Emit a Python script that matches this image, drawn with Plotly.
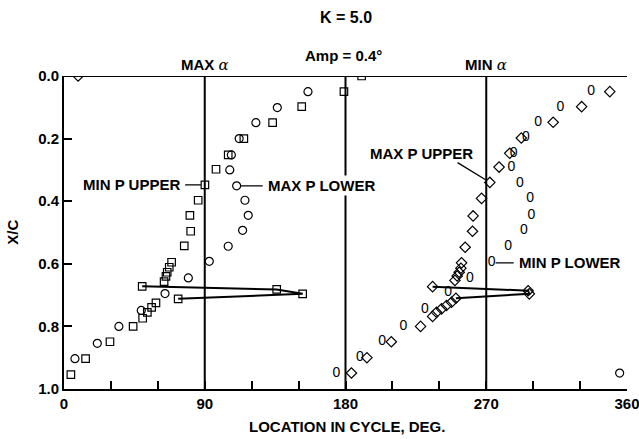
import plotly.graph_objects as go

# ---- measured locations of pressure extremes (phase in deg, chordwise x/c) ----
# minimum pressure, upper surface (squares)
min_p_upper_deg = [4.4, 13.8, 29.4, 44.2, 50.3, 53.3, 56.0, 58.8, 73.0,
                   50.0, 64.0, 65.2, 66.0, 67.3, 68.8, 76.9, 81.0, 80.5, 85.8,
                   90.1, 97.2, 105.0, 115.0, 133.4, 152.0, 179.0, 190.3,
                   136.0, 152.6]
min_p_upper_xc = [0.954, 0.903, 0.849, 0.800, 0.774, 0.755, 0.739, 0.725, 0.712,
                  0.672, 0.657, 0.640, 0.627, 0.611, 0.595, 0.543, 0.496, 0.445, 0.397,
                  0.348, 0.298, 0.252, 0.200, 0.149, 0.098, 0.050, 0.000,
                  0.682, 0.696]

# maximum pressure, lower surface (circles)
max_p_lower_deg = [7.0, 21.3, 35.1, 49.4, 64.6, 79.5, 92.9, 105.0, 114.2, 117.8,
                   115.7, 110.4, 106.0, 107.0, 112.0, 122.7, 136.4, 156.0, 355.3]
max_p_lower_xc = [0.903, 0.854, 0.800, 0.749, 0.695, 0.645, 0.592, 0.544, 0.493, 0.445,
                  0.397, 0.351, 0.300, 0.252, 0.200, 0.149, 0.101, 0.050, 0.949]

# maximum pressure, upper surface (diamonds)
max_p_upper_deg = [9.0, 183.8, 193.7, 209.3, 228.0, 235.7, 238.2, 241.4, 244.6, 247.8,
                   250.6, 235.7, 250.0, 251.4, 252.7, 253.8, 254.2, 256.5, 261.2, 261.6,
                   267.0, 272.3, 278.2, 285.0, 292.4, 312.8, 331.0, 349.0, 296.8, 297.5]
max_p_upper_xc = [0.000, 0.949, 0.900, 0.849, 0.800, 0.768, 0.755, 0.744, 0.733, 0.723,
                  0.710, 0.673, 0.653, 0.639, 0.627, 0.614, 0.597, 0.547, 0.496, 0.447,
                  0.391, 0.340, 0.291, 0.247, 0.198, 0.148, 0.098, 0.050, 0.686, 0.696]

# minimum pressure, lower surface (plotted as "0")
min_p_lower_deg = [174.2, 189.2, 203.5, 217.0, 230.8, 245.6, 259.5, 273.4, 284.0, 294.0,
                   298.9, 298.0, 291.5, 286.1, 287.6, 295.4, 303.2, 317.4, 337.0]
min_p_lower_xc = [0.951, 0.900, 0.849, 0.800, 0.746, 0.691, 0.647, 0.597, 0.545, 0.493,
                  0.445, 0.392, 0.343, 0.293, 0.247, 0.198, 0.148, 0.100, 0.050]

# jumps of the upper-surface extremes
jump_max_deg = [50.0, 136.0, 152.6, 73.0]
jump_max_xc = [0.672, 0.682, 0.696, 0.712]
jump_min_deg = [235.7, 296.8, 297.5, 250.6]
jump_min_xc = [0.673, 0.686, 0.696, 0.710]

x_ticks = [0, 90, 180, 270, 360]
x_minor = [30, 60, 120, 150, 210, 240, 300, 330]
y_ticks = [0.0, 0.2, 0.4, 0.6, 0.8, 1.0]
y_labels = ["0.0", "0.2", "0.4", "0.6", "0.8", "1.0"]

FONT = "Liberation Sans Narrow, Arial Narrow, sans-serif"
INK = "black"

fig = go.Figure()

for xs, ys in [(jump_max_deg, jump_max_xc), (jump_min_deg, jump_min_xc)]:
    fig.add_trace(go.Scatter(x=xs, y=ys, mode="lines",
                             line=dict(color=INK, width=2), hoverinfo="skip"))

fig.add_trace(go.Scatter(x=min_p_upper_deg, y=min_p_upper_xc, mode="markers",
                         marker=dict(symbol="square-open", size=7.5, color=INK,
                                     line=dict(width=1.2, color=INK))))
fig.add_trace(go.Scatter(x=max_p_lower_deg, y=max_p_lower_xc, mode="markers",
                         marker=dict(symbol="circle-open", size=8, color=INK,
                                     line=dict(width=1.2, color=INK))))
fig.add_trace(go.Scatter(x=max_p_upper_deg, y=max_p_upper_xc, mode="markers",
                         marker=dict(symbol="diamond-open", size=8, color=INK,
                                     line=dict(width=1.2, color=INK))))
fig.add_trace(go.Scatter(x=min_p_lower_deg, y=min_p_lower_xc, mode="text",
                         text=["0"] * len(min_p_lower_deg),
                         textposition="middle center",
                         textfont=dict(family=FONT, size=14, color=INK)))

# phase markers at max / mid / min alpha, plus the top frame line
shapes = []
for xv in [90, 180, 270]:
    shapes.append(dict(type="line", xref="x", yref="y", x0=xv, x1=xv, y0=0, y1=1,
                       line=dict(color=INK, width=2), layer="below"))
shapes.append(dict(type="line", xref="paper", yref="y", x0=0, x1=1, y0=0, y1=0,
                   line=dict(color=INK, width=2)))

annotations = []
lab_font = dict(family=FONT, size=15, color=INK, weight="bold")


def leader(px, py, tx, ty, standoff=4):
    annotations.append(dict(x=px, y=py, ax=tx, ay=ty, xref="x", yref="y",
                            axref="x", ayref="y", text="", showarrow=True,
                            arrowhead=0, arrowwidth=1.3, arrowcolor=INK,
                            standoff=standoff))


def label(text, x, y, xanchor="center", bg=None, xref="x", yref="y", font=None, **kw):
    d = dict(text=text, x=x, y=y, xref=xref, yref=yref, xanchor=xanchor,
             yanchor="middle", showarrow=False, font=font or lab_font)
    if bg:
        d["bgcolor"] = bg
    d.update(kw)
    annotations.append(d)


i = min_p_upper_deg.index(90.1)
leader(min_p_upper_deg[i], min_p_upper_xc[i], 76.5, min_p_upper_xc[i])
label("MIN P UPPER", 75.5, min_p_upper_xc[i], xanchor="right")

i = max_p_lower_deg.index(110.4)
leader(max_p_lower_deg[i], max_p_lower_xc[i], 128.0, max_p_lower_xc[i])
label("MAX P LOWER", 129.0, max_p_lower_xc[i], xanchor="left", bg="white")

i = max_p_upper_deg.index(272.3)
leader(max_p_upper_deg[i], max_p_upper_xc[i], 250.7, 0.274, standoff=5)
label("MAX P UPPER", 228.6, 0.246)

i = min_p_lower_deg.index(273.4)
leader(min_p_lower_deg[i], min_p_lower_xc[i], 288.5, min_p_lower_xc[i], standoff=4)
label("MIN P LOWER", 289.7, min_p_lower_xc[i], xanchor="left")

alpha = "<span style=\"font-family:'DejaVu Serif';font-style:italic;font-weight:normal\">α</span>"
label("MAX " + alpha, 90, 1.035, yref="paper")
label("MIN " + alpha, 270, 1.035, yref="paper")
label("Amp = 0.4°", 179, 1.067, yref="paper")
label("K = 5.0", 180, 1.188, yref="paper",
      font=dict(family=FONT, size=16, color=INK, weight="bold"))
label("LOCATION IN CYCLE, DEG.", 181, -0.121, yref="paper")
label("X/C", -0.092, 0.5, xref="paper", yref="paper", textangle=-90)

fig.update_layout(
    width=639, height=439,
    margin=dict(l=64, r=12, t=76, b=50, autoexpand=False),
    paper_bgcolor="white", plot_bgcolor="white",
    showlegend=False,
    shapes=shapes, annotations=annotations,
    xaxis=dict(range=[0, 360], tickvals=x_ticks, ticks="inside", ticklen=8,
               tickwidth=2, tickcolor=INK, showgrid=False, zeroline=False,
               showline=True, linewidth=2, linecolor=INK, mirror=False,
               ticklabeloverflow="allow", automargin=False,
               tickfont=dict(family=FONT, size=15, color=INK, weight="bold"),
               minor=dict(tickvals=x_minor, ticks="inside", ticklen=8,
                          tickwidth=1.5, tickcolor=INK, showgrid=False)),
    yaxis=dict(range=[1.0, 0.0], tickvals=y_ticks, ticktext=y_labels,
               ticks="inside", ticklen=8, tickwidth=2, tickcolor=INK,
               showgrid=False, zeroline=False, showline=True, linewidth=2,
               linecolor=INK, mirror=False, automargin=False,
               tickfont=dict(family=FONT, size=15, color=INK, weight="bold")),
)

fig.write_html("out.html")
